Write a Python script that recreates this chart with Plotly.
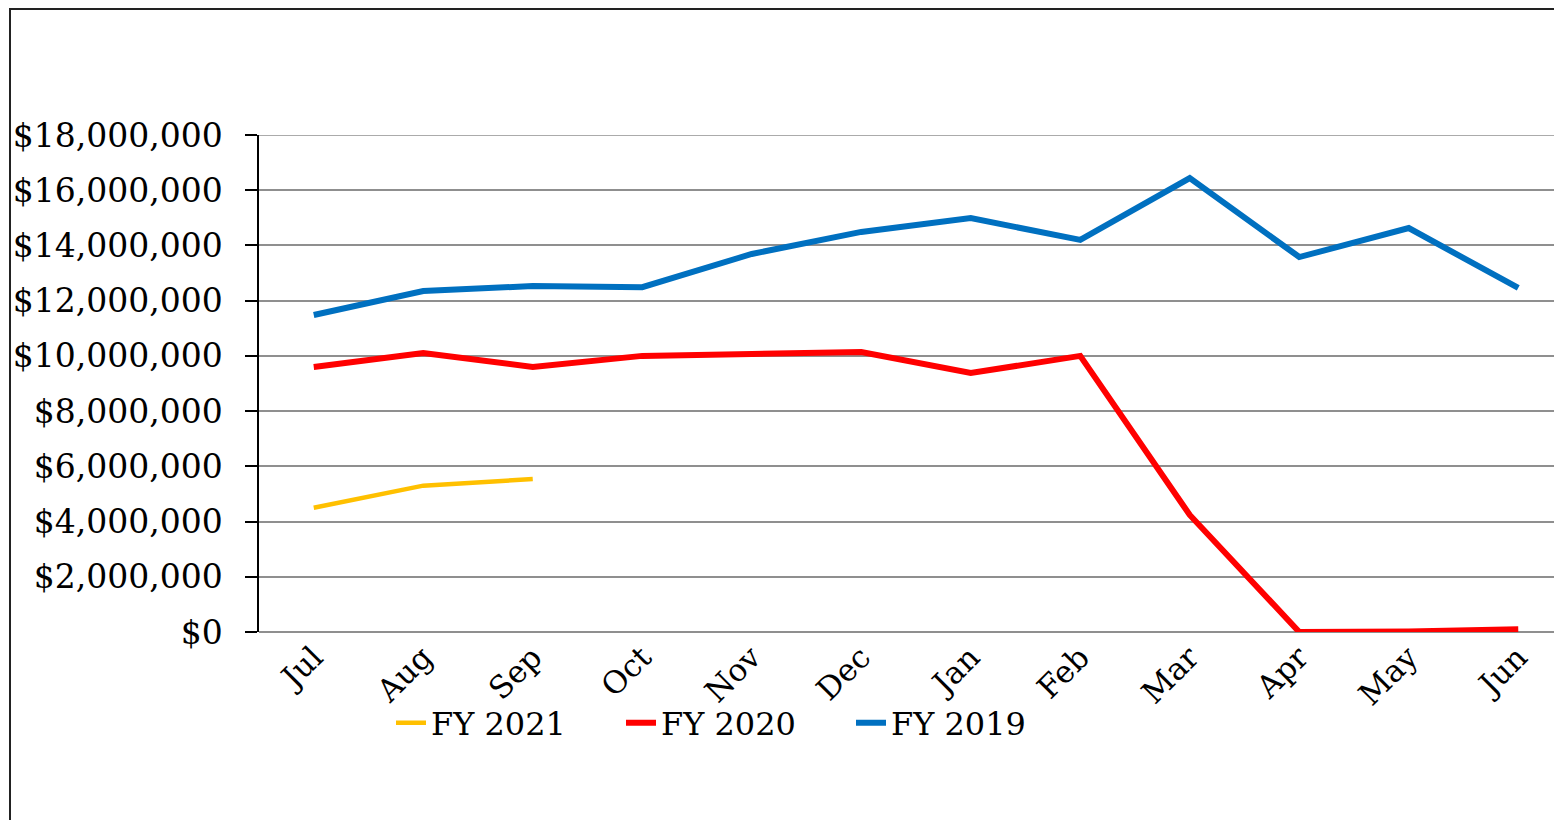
import plotly.graph_objects as go

months = ["Jul", "Aug", "Sep", "Oct", "Nov", "Dec", "Jan", "Feb", "Mar", "Apr", "May", "Jun"]
fy2021 = [4500000, 5300000, 5540000]
fy2020 = [9600000, 10100000, 9600000, 10000000, 10070000, 10140000, 9380000, 10000000, 4240000, 0, 20000, 100000]
fy2019 = [11480000, 12350000, 12530000, 12490000, 13690000, 14490000, 14990000, 14200000, 16440000, 13580000, 14630000, 12460000]
y_ticks = [0, 2000000, 4000000, 6000000, 8000000, 10000000, 12000000, 14000000, 16000000, 18000000]
y_tick_labels = ["$" + format(v, ",") for v in y_ticks]

FONT = "DejaVu Serif"

fig = go.Figure()
fig.add_trace(go.Scatter(x=months[:len(fy2021)], y=fy2021, name="FY 2021", mode="lines",
                         line=dict(color="#FFC000", width=4.5)))
fig.add_trace(go.Scatter(x=months, y=fy2020, name="FY 2020", mode="lines",
                         line=dict(color="#FF0000", width=6)))
fig.add_trace(go.Scatter(x=months, y=fy2019, name="FY 2019", mode="lines",
                         line=dict(color="#0070C0", width=6)))

OFF = 8  # page body margin
W, H = 1562 - OFF, 820 - OFF
L, R, T, B = 259 - OFF, 0, 135 - OFF, 820 - 632
pw = W - L - R
ph = H - T - B
band = 109.5

def px_x(x):
    return (x - OFF - L) / pw

def px_y(y):
    return (H - B - (y - OFF)) / ph

fig.update_layout(
    width=W, height=H,
    margin=dict(l=L, r=R, t=T, b=B),
    paper_bgcolor="white", plot_bgcolor="white",
    font=dict(family=FONT, size=32, color="black"),
    showlegend=True,
    legend=dict(orientation="h", x=px_x(391), xanchor="left",
                y=px_y(723), yanchor="middle",
                font=dict(family=FONT, size=32, color="black"),
                entrywidth=185, entrywidthmode="pixels",
                bgcolor="rgba(0,0,0,0)", traceorder="normal"),
    xaxis=dict(type="category", categoryorder="array", categoryarray=months,
               range=[-0.5, -0.5 + pw / band], showgrid=False, zeroline=False,
               showline=False, ticks="", tickangle=-45,
               tickfont=dict(family=FONT, size=31, color="black")),
    yaxis=dict(range=[0, 18000000], tickvals=y_ticks, ticktext=y_tick_labels,
               showgrid=True, gridcolor="#8f8f8f", gridwidth=1.5,
               zeroline=True, zerolinecolor="#8f8f8f", zerolinewidth=1.5,
               showline=True, linecolor="black", linewidth=1.5,
               ticks="outside", ticklen=12, tickcolor="black", tickwidth=1.5,
               ticklabelstandoff=16,
               tickfont=dict(family=FONT, size=33, color="black")),
)

# top gridline at the edge of the range
fig.add_shape(type="line", xref="paper", yref="y", x0=0, x1=1,
              y0=y_ticks[-1], y1=y_ticks[-1],
              line=dict(color="#8f8f8f", width=1.5), layer="below")

fig.add_shape(type="rect", xref="paper", yref="paper",
              x0=px_x(10), x1=1.05, y0=-0.5, y1=px_y(9),
              line=dict(color="#222222", width=2), fillcolor="rgba(0,0,0,0)", layer="below")

fig.write_html("out.html")
